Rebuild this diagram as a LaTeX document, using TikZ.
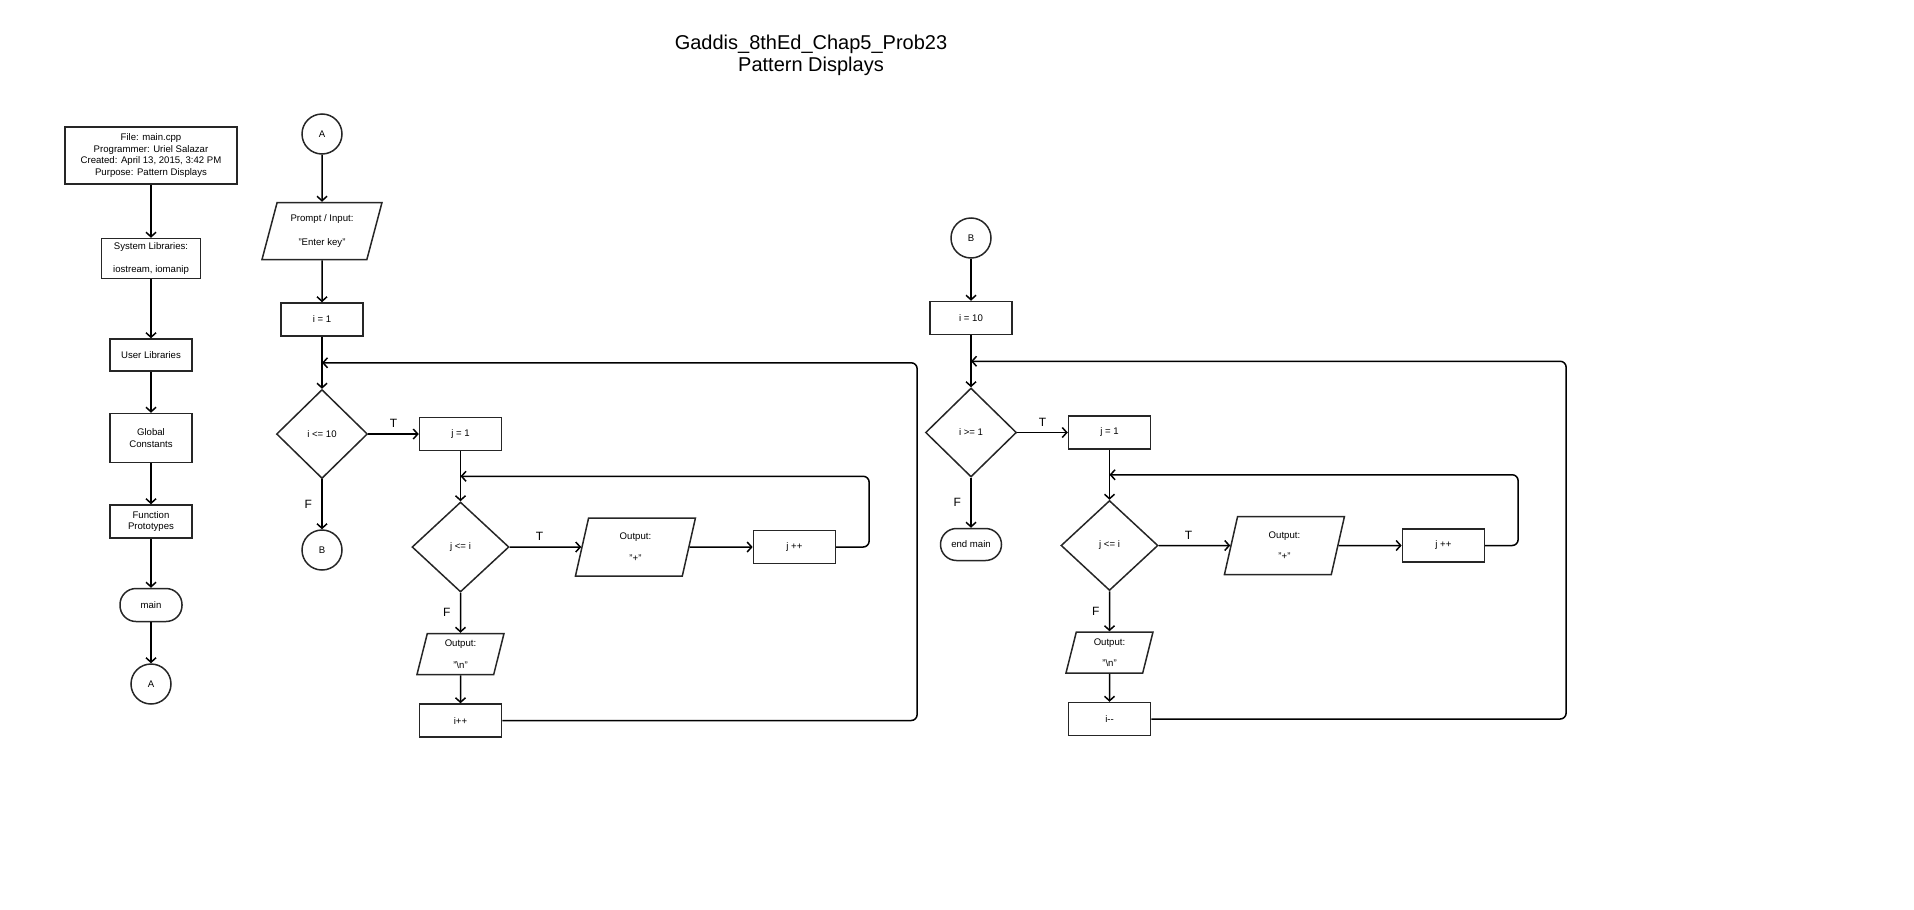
\documentclass[tikz,border=0pt]{standalone}
\usepackage{fontspec}
\setmainfont{Liberation Sans}
\usepackage{tikz}
\usetikzlibrary{calc}
\usetikzlibrary{positioning}
\usetikzlibrary{shapes.geometric}
\usetikzlibrary{arrows.meta}
\tikzset{
	>={Straight Barb[length=4.5pt,width=10pt]},
	process/.style={
		rectangle,
		draw=black!85, line width=1.5pt,
		minimum width=82pt,
		minimum height=33pt,
		inner sep=0pt,
		align=center},
	decision/.style={
		diamond,
		draw=black!85, line width=1.5pt,
		minimum width=91pt,
		minimum height=89pt,
		inner sep=0pt},
	io/.style={
		trapezium,
		trapezium left angle=65,
		trapezium right angle=115,
		trapezium stretches body,
		draw=black!85, line width=1.5pt,
		minimum width=120pt,
		minimum height=57pt,
		inner sep=0pt,
		align=center},
	connector/.style={circle, draw=black!85, line width=1.5pt, minimum size=40pt, inner sep=0pt},
	terminator/.style={rectangle, rounded corners=16pt, draw=black!85, line width=1.5pt,
		minimum width=62pt, minimum height=33pt, inner sep=0pt},
	line/.style={draw, line width=1.5pt, ->},
	flag/.style={font=\fontsize{12}{14}\selectfont},
}

\begin{document}
\begin{tikzpicture}
	[x=1pt, y=-1pt, font=\fontsize{9.6}{11.5}\selectfont]
	\useasboundingbox (0,0) rectangle (1914,910);

	\node[align=center, font=\fontsize{20}{22}\selectfont] (title) at (811,55) {Gaddis\_8thEd\_Chap5\_Prob23\\Pattern Displays};

	% header column
	\node[process, minimum width=172pt, minimum height=57pt] (file) at (151,155.5)
		{File: main.cpp\\Programmer: Uriel Salazar\\Created: April 13, 2015, 3:42 PM\\Purpose: Pattern Displays};
	\node[process, minimum width=99pt, minimum height=40pt, below=53pt of file] (syslib) {System Libraries:\\[12pt]iostream, iomanip};
	\node[process, minimum height=32pt, below=59pt of syslib] (userlib) {User Libraries};
	\node[process, minimum height=49pt, below=41pt of userlib] (globals) {Global\\Constants};
	\node[process, below=41pt of globals] (protos) {Function\\Prototypes};
	\node[terminator, below=49pt of protos] (mainstart) {main};
	\node[connector, below=41pt of mainstart] (toA) {A};
	\foreach \a/\b in {file/syslib, syslib/userlib, userlib/globals, globals/protos, protos/mainstart, mainstart/toA}
		\draw[line] (\a) -- (\b);

	% first pattern
	\node[connector] (fromA) at (322,134) {A};
	\node[io, below=47pt of fromA] (prompt) {Prompt / Input:\\[12pt]"Enter key"};
	\node[process, below=42pt of prompt] (ione) {i = 1};
	\node[decision, below=52pt of ione] (icondA) {i <= 10};
	\node[connector, below=50pt of icondA] (toB) {B};
	\node[process, right=50.5pt of icondA] (joneA) {j = 1};
	\node[decision, minimum width=97pt, minimum height=90pt, below=50pt of joneA] (jcondA) {j <= i};
	\node[io, minimum height=58pt, right=71.5pt of jcondA] (plusA) {Output:\\[10pt]"+"};
	\node[process, right=63pt of plusA] (jincA) {j ++};
	\node[io, trapezium left angle=70, trapezium right angle=110, minimum width=87pt, minimum height=41pt,
		below=40pt of jcondA] (newlineA) {Output:\\[10pt]"\textbackslash n"};
	\node[process, below=28pt of newlineA] (iinc) {i++};

	\coordinate (imergeA) at ($(ione.south)!.5!(icondA.north)$);
	\coordinate (jmergeA) at ($(joneA.south)!.5!(jcondA.north)$);
	\coordinate (jbackA) at ($(jmergeA -| jincA.east)+(33,0)$);
	\coordinate (ibackA) at ($(imergeA -| jincA.east)+(81,0)$);

	\draw[line] (fromA) -- (prompt);
	\draw[line] (prompt) -- (ione);
	\draw[line] (ione) -- (icondA);
	\draw[line] (icondA) -- node[flag, above=2pt] {T} (joneA);
	\draw[line] (icondA) -- node[flag, left=6pt] {F} (toB);
	\draw[line] (joneA) -- (jcondA);
	\draw[line] (jcondA) -- node[flag, above=2pt, xshift=-6pt] {T} (plusA);
	\draw[line] (plusA) -- (jincA);
	\draw[line] (jcondA) -- node[flag, left=6pt] {F} (newlineA);
	\draw[line] (newlineA) -- (iinc);
	\draw[line, rounded corners=6pt] (jincA.east) -| (jbackA) -- (jmergeA);
	\draw[line, rounded corners=6pt] (iinc.east) -| (ibackA) -- (imergeA);

	% second pattern
	\node[connector] (fromB) at (971,238) {B};
	\node[process, below=42pt of fromB] (iten) {i = 10};
	\node[decision, below=52pt of iten] (icondB) {i >= 1};
	\node[terminator, minimum width=61pt, minimum height=32pt, below=50pt of icondB] (mainend) {end main};
	\node[process, right=50.5pt of icondB] (joneB) {j = 1};
	\node[decision, minimum width=97pt, minimum height=90pt, below=50pt of joneB] (jcondB) {j <= i};
	\node[io, minimum height=58pt, right=71.5pt of jcondB] (plusB) {Output:\\[10pt]"+"};
	\node[process, right=63pt of plusB] (jincB) {j ++};
	\node[io, trapezium left angle=70, trapezium right angle=110, minimum width=87pt, minimum height=41pt,
		below=40pt of jcondB] (newlineB) {Output:\\[10pt]"\textbackslash n"};
	\node[process, below=28pt of newlineB] (idec) {i-{}-};

	\coordinate (imergeB) at ($(iten.south)!.5!(icondB.north)$);
	\coordinate (jmergeB) at ($(joneB.south)!.5!(jcondB.north)$);
	\coordinate (jbackB) at ($(jmergeB -| jincB.east)+(33,0)$);
	\coordinate (ibackB) at ($(imergeB -| jincB.east)+(81,0)$);

	\draw[line] (fromB) -- (iten);
	\draw[line] (iten) -- (icondB);
	\draw[line] (icondB) -- node[flag, above=2pt] {T} (joneB);
	\draw[line] (icondB) -- node[flag, left=6pt] {F} (mainend);
	\draw[line] (joneB) -- (jcondB);
	\draw[line] (jcondB) -- node[flag, above=2pt, xshift=-6pt] {T} (plusB);
	\draw[line] (plusB) -- (jincB);
	\draw[line] (jcondB) -- node[flag, left=6pt] {F} (newlineB);
	\draw[line] (newlineB) -- (idec);
	\draw[line, rounded corners=6pt] (jincB.east) -| (jbackB) -- (jmergeB);
	\draw[line, rounded corners=6pt] (idec.east) -| (ibackB) -- (imergeB);
\end{tikzpicture}
\end{document}
